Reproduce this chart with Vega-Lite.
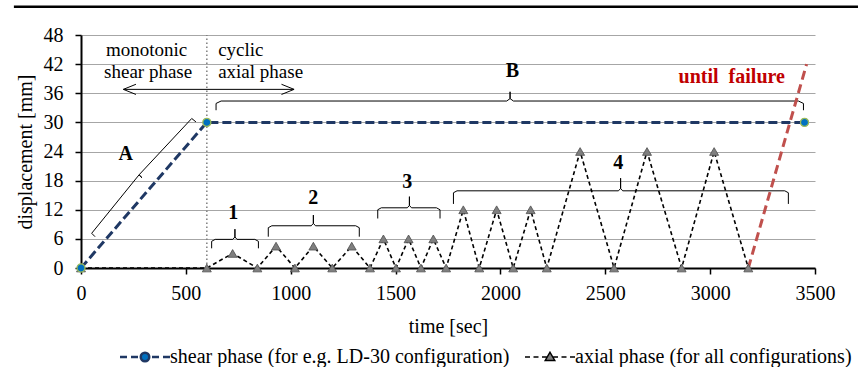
{
  "$schema": "https://vega.github.io/schema/vega-lite/v6.json",
  "autosize": {"type": "none"},
  "width": 734,
  "height": 233,
  "padding": {"left": 81, "top": 35, "right": 43, "bottom": 99},
  "background": "white",
  "config": {
    "font": "Liberation Serif",
    "view": {"stroke": null},
    "axis": {"labelFont": "Liberation Serif", "titleFont": "Liberation Serif", "labelColor": "#000", "titleColor": "#000", "titleFontWeight": "normal", "labelFontSize": 20, "titleFontSize": 20},
    "legend": {"labelFont": "Liberation Serif"}
  },
  "datasets": {
    "shear": [
      {"t": 0, "d": 0, "series": "shear phase (for e.g. LD-30 configuration)"},
      {"t": 600, "d": 30, "series": "shear phase (for e.g. LD-30 configuration)"},
      {"t": 3450, "d": 30, "series": "shear phase (for e.g. LD-30 configuration)"}
    ],
    "axial": [
      {"t": 0, "d": 0, "series": "axial phase (for all configurations)"},
      {"t": 600, "d": 0, "series": "axial phase (for all configurations)"},
      {"t": 723, "d": 3, "series": "axial phase (for all configurations)"},
      {"t": 841, "d": 0, "series": "axial phase (for all configurations)"},
      {"t": 930, "d": 4.5, "series": "axial phase (for all configurations)"},
      {"t": 1020, "d": 0, "series": "axial phase (for all configurations)"},
      {"t": 1108, "d": 4.5, "series": "axial phase (for all configurations)"},
      {"t": 1198, "d": 0, "series": "axial phase (for all configurations)"},
      {"t": 1291, "d": 4.5, "series": "axial phase (for all configurations)"},
      {"t": 1378, "d": 0, "series": "axial phase (for all configurations)"},
      {"t": 1442, "d": 6, "series": "axial phase (for all configurations)"},
      {"t": 1502, "d": 0, "series": "axial phase (for all configurations)"},
      {"t": 1562, "d": 6, "series": "axial phase (for all configurations)"},
      {"t": 1621, "d": 0, "series": "axial phase (for all configurations)"},
      {"t": 1680, "d": 6, "series": "axial phase (for all configurations)"},
      {"t": 1741, "d": 0, "series": "axial phase (for all configurations)"},
      {"t": 1823, "d": 12, "series": "axial phase (for all configurations)"},
      {"t": 1899, "d": 0, "series": "axial phase (for all configurations)"},
      {"t": 1982, "d": 12, "series": "axial phase (for all configurations)"},
      {"t": 2061, "d": 0, "series": "axial phase (for all configurations)"},
      {"t": 2144, "d": 12, "series": "axial phase (for all configurations)"},
      {"t": 2221, "d": 0, "series": "axial phase (for all configurations)"},
      {"t": 2380, "d": 24, "series": "axial phase (for all configurations)"},
      {"t": 2542, "d": 0, "series": "axial phase (for all configurations)"},
      {"t": 2699, "d": 24, "series": "axial phase (for all configurations)"},
      {"t": 2864, "d": 0, "series": "axial phase (for all configurations)"},
      {"t": 3019, "d": 24, "series": "axial phase (for all configurations)"},
      {"t": 3182, "d": 0, "series": "axial phase (for all configurations)"}
    ],
    "failure": [
      {"t": 3182, "d": 0},
      {"t": 3460, "d": 42}
    ],
    "brackets": [
      {"g": "A", "o": 1, "t": 67, "d": 6.45},
      {"g": "A", "o": 2, "t": 51, "d": 7.15},
      {"g": "A", "o": 3, "t": 277, "d": 19.2},
      {"g": "A", "o": 4, "t": 291, "d": 18.6},
      {"g": "A", "o": 5, "t": 277, "d": 19.2},
      {"g": "A", "o": 6, "t": 528, "d": 30.8},
      {"g": "A", "o": 7, "t": 548, "d": 30.1},
      {"g": "B", "o": 1, "t": 644, "d": 32.5},
      {"g": "B", "o": 2, "t": 644, "d": 33.9},
      {"g": "B", "o": 3, "t": 668, "d": 34.4},
      {"g": "B", "o": 4, "t": 2030, "d": 34.4},
      {"g": "B", "o": 5, "t": 2046, "d": 34.9},
      {"g": "B", "o": 6, "t": 2046, "d": 36.3},
      {"g": "B", "o": 7, "t": 2046, "d": 34.9},
      {"g": "B", "o": 8, "t": 2062, "d": 34.4},
      {"g": "B", "o": 9, "t": 3421, "d": 34.4},
      {"g": "B", "o": 10, "t": 3445, "d": 33.9},
      {"g": "B", "o": 11, "t": 3445, "d": 32.5},
      {"g": "b1", "o": 1, "t": 623, "d": 4.05},
      {"g": "b1", "o": 2, "t": 623, "d": 5.5},
      {"g": "b1", "o": 3, "t": 640, "d": 5.9},
      {"g": "b1", "o": 4, "t": 724, "d": 5.9},
      {"g": "b1", "o": 5, "t": 734, "d": 6.4},
      {"g": "b1", "o": 6, "t": 734, "d": 8.0},
      {"g": "b1", "o": 7, "t": 734, "d": 6.4},
      {"g": "b1", "o": 8, "t": 744, "d": 5.9},
      {"g": "b1", "o": 9, "t": 829, "d": 5.9},
      {"g": "b1", "o": 10, "t": 846, "d": 5.5},
      {"g": "b1", "o": 11, "t": 846, "d": 4.05},
      {"g": "b2", "o": 1, "t": 893, "d": 6.45},
      {"g": "b2", "o": 2, "t": 893, "d": 8.3},
      {"g": "b2", "o": 3, "t": 910, "d": 8.7},
      {"g": "b2", "o": 4, "t": 1098, "d": 8.7},
      {"g": "b2", "o": 5, "t": 1108, "d": 9.2},
      {"g": "b2", "o": 6, "t": 1108, "d": 10.9},
      {"g": "b2", "o": 7, "t": 1108, "d": 9.2},
      {"g": "b2", "o": 8, "t": 1118, "d": 8.7},
      {"g": "b2", "o": 9, "t": 1310, "d": 8.7},
      {"g": "b2", "o": 10, "t": 1327, "d": 8.3},
      {"g": "b2", "o": 11, "t": 1327, "d": 6.45},
      {"g": "b3", "o": 1, "t": 1415, "d": 10.2},
      {"g": "b3", "o": 2, "t": 1415, "d": 12.0},
      {"g": "b3", "o": 3, "t": 1432, "d": 12.4},
      {"g": "b3", "o": 4, "t": 1556, "d": 12.4},
      {"g": "b3", "o": 5, "t": 1566, "d": 12.9},
      {"g": "b3", "o": 6, "t": 1566, "d": 14.7},
      {"g": "b3", "o": 7, "t": 1566, "d": 12.9},
      {"g": "b3", "o": 8, "t": 1576, "d": 12.4},
      {"g": "b3", "o": 9, "t": 1695, "d": 12.4},
      {"g": "b3", "o": 10, "t": 1712, "d": 12.0},
      {"g": "b3", "o": 11, "t": 1712, "d": 10.2},
      {"g": "b4", "o": 1, "t": 1776, "d": 13.2},
      {"g": "b4", "o": 2, "t": 1776, "d": 15.5},
      {"g": "b4", "o": 3, "t": 1793, "d": 15.9},
      {"g": "b4", "o": 4, "t": 2563, "d": 15.9},
      {"g": "b4", "o": 5, "t": 2573, "d": 16.4},
      {"g": "b4", "o": 6, "t": 2573, "d": 18.5},
      {"g": "b4", "o": 7, "t": 2573, "d": 16.4},
      {"g": "b4", "o": 8, "t": 2583, "d": 15.9},
      {"g": "b4", "o": 9, "t": 3356, "d": 15.9},
      {"g": "b4", "o": 10, "t": 3373, "d": 15.5},
      {"g": "b4", "o": 11, "t": 3373, "d": 13.2},
      {"g": "arrow", "o": 1, "t": 202, "d": 36.8},
      {"g": "arrow", "o": 2, "t": 1016, "d": 36.8},
      {"g": "headL", "o": 1, "t": 262, "d": 37.85},
      {"g": "headL", "o": 2, "t": 202, "d": 36.8},
      {"g": "headL", "o": 3, "t": 262, "d": 35.75},
      {"g": "headR", "o": 1, "t": 956, "d": 37.85},
      {"g": "headR", "o": 2, "t": 1016, "d": 36.8},
      {"g": "headR", "o": 3, "t": 956, "d": 35.75}
    ]
  },
  "encoding": {
    "x": {
      "field": "t", "type": "quantitative",
      "scale": {"domain": [0, 3500], "nice": false, "zero": false},
      "axis": {
        "title": "time [sec]", "values": [0, 500, 1000, 1500, 2000, 2500, 3000, 3500], "format": "d",
        "labelFont": "Liberation Serif", "labelFontSize": 20, "titleFont": "Liberation Serif", "titleFontSize": 20,
        "grid": false, "domainColor": "#000", "domainWidth": 2, "tickColor": "#000", "tickWidth": 1.5, "tickSize": 6,
        "labelPadding": 9, "titlePadding": 13, "labelFlush": false, "labelOverlap": false
      }
    },
    "y": {
      "field": "d", "type": "quantitative",
      "scale": {"domain": [0, 48], "nice": false, "zero": false},
      "axis": {
        "title": "displacement [mm]", "values": [0, 6, 12, 18, 24, 30, 36, 42, 48], "format": "d",
        "labelFont": "Liberation Serif", "labelFontSize": 20, "titleFont": "Liberation Serif", "titleFontSize": 20,
        "grid": true, "gridColor": "#a6a6a6", "gridWidth": 1, "domainColor": "#000", "domainWidth": 2,
        "tickColor": "#000", "tickWidth": 1.5, "tickSize": 6, "labelPadding": 12, "titlePadding": 8, "labelFlush": false
      }
    }
  },
  "layer": [
    {
      "data": {"values": [{"t": -320, "t2": 3705, "d": 53.8}]},
      "mark": {"type": "rule", "color": "#000", "strokeWidth": 2.5, "clip": false},
      "encoding": {"x2": {"field": "t2"}}
    },
    {
      "data": {"values": [{"t": 600, "d": 0, "d2": 48}]},
      "mark": {"type": "rule", "color": "#7f7f7f", "strokeWidth": 1.5, "strokeDash": [1.5, 2.5]},
      "encoding": {"y2": {"field": "d2"}}
    },
    {
      "data": {"name": "brackets"},
      "mark": {"type": "line", "color": "#000", "strokeWidth": 1, "clip": false},
      "encoding": {"detail": {"field": "g"}, "order": {"field": "o", "type": "quantitative"}}
    },
    {
      "data": {"name": "axial"},
      "mark": {"type": "line", "strokeWidth": 1.6, "strokeDash": [4, 3]},
      "encoding": {
        "color": {
          "field": "series", "type": "nominal",
          "scale": {"domain": ["shear phase (for e.g. LD-30 configuration)", "axial phase (for all configurations)"], "range": ["#1f3864", "#000000"]},
          "legend": {
            "title": null, "orient": "none", "legendX": 54, "legendY": 312, "direction": "horizontal",
            "symbolSize": 2500, "symbolStrokeWidth": 2, "labelFont": "Liberation Serif", "labelFontSize": 20, "labelLimit": 600, "labelOffset": 15,
            "columnPadding": 12, "padding": 0, "labelColor": "#000",
            "encode": {
              "symbols": {
                "update": {
                  "shape": {"signal": "datum.value == 'shear phase (for e.g. LD-30 configuration)' ? 'M-1,0H-0.72M-0.56,0H-0.28M0.28,0H0.56M0.72,0H1M0.17,0A0.17,0.17,0,1,1,-0.17,0A0.17,0.17,0,1,1,0.17,0Z' : 'M-1,0H-0.8M-0.66,0H-0.46M-0.32,0H-0.12M0.12,0H0.32M0.46,0H0.66M0.8,0H1M0,-0.19L0.19,0.14L-0.19,0.14Z'"},
                  "fill": {"signal": "datum.value == 'shear phase (for e.g. LD-30 configuration)' ? '#0070c0' : '#7f7f7f'"},
                  "stroke": {"signal": "datum.value == 'shear phase (for e.g. LD-30 configuration)' ? '#1f3864' : '#000000'"},
                  "strokeWidth": {"signal": "datum.value == 'shear phase (for e.g. LD-30 configuration)' ? 2.5 : 1.5"},
                  "opacity": {"value": 1}
                }
              }
            }
          }
        }
      }
    },
    {
      "data": {"name": "shear"},
      "mark": {"type": "line", "strokeWidth": 3, "strokeDash": [9, 4]},
      "encoding": {"color": {"field": "series", "type": "nominal"}}
    },
    {
      "data": {"name": "failure"},
      "mark": {"type": "line", "color": "#c0504d", "strokeWidth": 3, "strokeDash": [9, 5], "clip": false}
    },
    {
      "data": {"name": "axial"},
      "mark": {"type": "point", "shape": "triangle-up", "size": 80, "filled": true, "fill": "#7f7f7f", "stroke": "#4d4d4d", "strokeWidth": 0.8, "opacity": 1}
    },
    {
      "data": {"name": "shear"},
      "mark": {"type": "point", "shape": "circle", "size": 65, "filled": true, "fill": "#0070c0", "stroke": "#9bbb59", "strokeWidth": 1.3, "opacity": 1}
    },
    {
      "data": {"values": [{"t": 313, "d": 44.9, "label": "monotonic"}, {"t": 320, "d": 40.4, "label": "shear phase"}]},
      "mark": {"type": "text", "align": "center", "baseline": "middle", "fontSize": 19, "font": "Liberation Serif", "color": "#000"},
      "encoding": {"text": {"field": "label"}}
    },
    {
      "data": {"values": [{"t": 654, "d": 44.9, "label": "cyclic"}, {"t": 654, "d": 40.4, "label": "axial phase"}]},
      "mark": {"type": "text", "align": "left", "baseline": "middle", "fontSize": 19, "font": "Liberation Serif", "color": "#000"},
      "encoding": {"text": {"field": "label"}}
    },
    {
      "data": {"values": [
        {"t": 213, "d": 23.4, "label": "A"},
        {"t": 2057, "d": 40.6, "label": "B"},
        {"t": 726, "d": 11.3, "label": "1"},
        {"t": 1108, "d": 14.4, "label": "2"},
        {"t": 1556, "d": 17.8, "label": "3"},
        {"t": 2562, "d": 21.6, "label": "4"}
      ]},
      "mark": {"type": "text", "align": "center", "baseline": "middle", "fontSize": 20, "fontWeight": "bold", "font": "Liberation Serif", "color": "#000"},
      "encoding": {"text": {"field": "label"}}
    },
    {
      "data": {"values": [{"t": 3103, "d": 39.4, "label": "until\u00a0\u00a0failure"}]},
      "mark": {"type": "text", "align": "center", "baseline": "middle", "fontSize": 20, "fontWeight": "bold", "font": "Liberation Serif", "color": "#c00000"},
      "encoding": {"text": {"field": "label"}}
    }
  ]
}
